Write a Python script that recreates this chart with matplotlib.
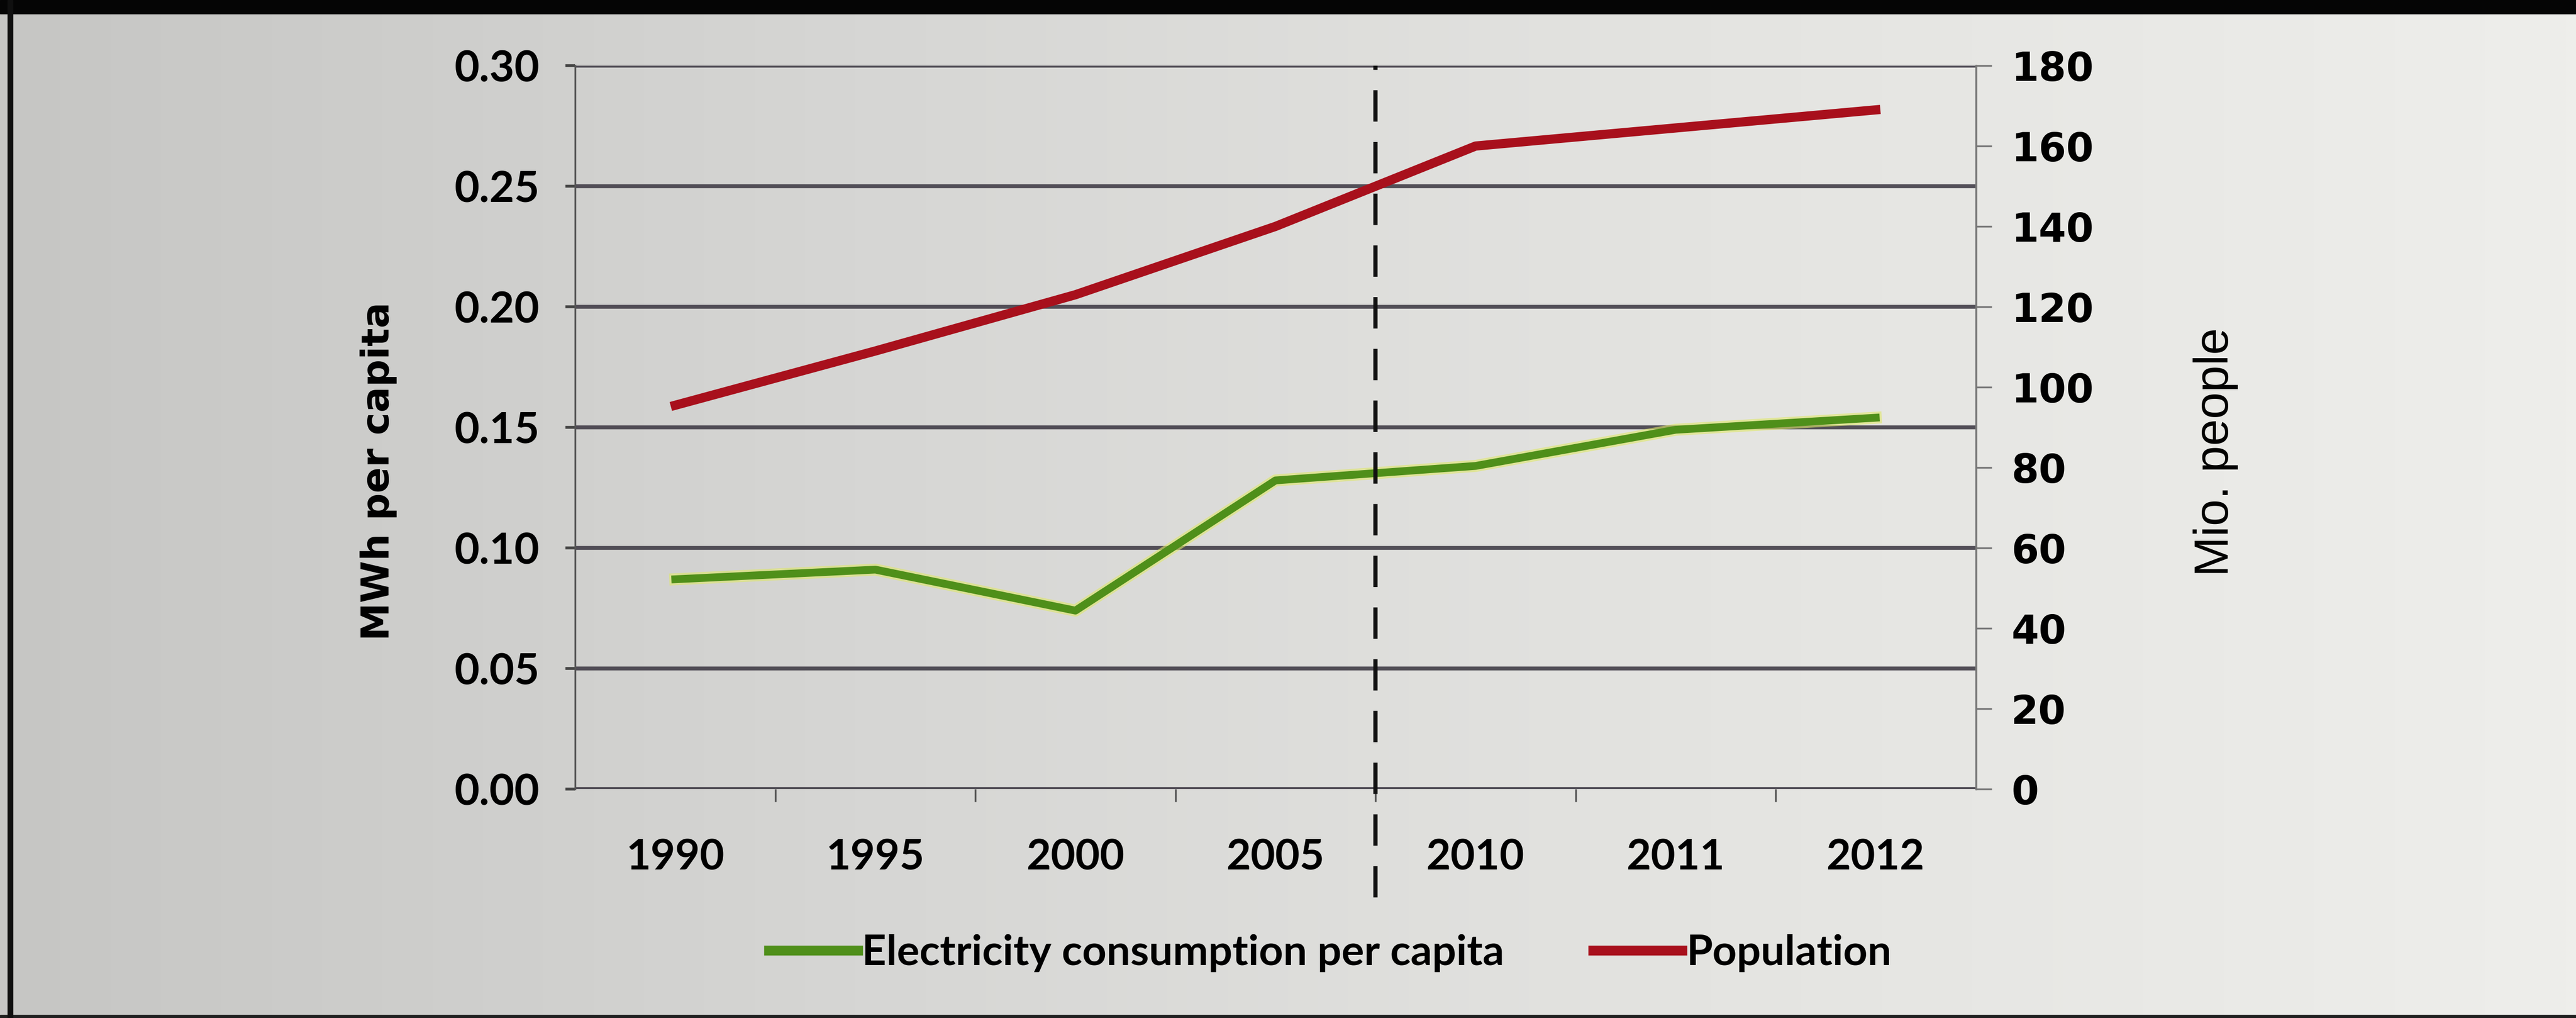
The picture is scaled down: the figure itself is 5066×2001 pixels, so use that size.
import numpy as np
import matplotlib
matplotlib.use("Agg")
import matplotlib.pyplot as plt
from matplotlib.patches import Rectangle
from matplotlib.lines import Line2D
from matplotlib.colors import LinearSegmentedColormap

years = ["1990", "1995", "2000", "2005", "2010", "2011", "2012"]
electricity = [0.087, 0.091, 0.074, 0.128, 0.134, 0.149, 0.154]
population = [95.5, 109.0, 123.0, 140.0, 160.0, 164.5, 169.0]
left_ticks = [0.00, 0.05, 0.10, 0.15, 0.20, 0.25, 0.30]
right_ticks = [0, 20, 40, 60, 80, 100, 120, 140, 160, 180]
divider_pos = 3.5

W, H, DPI = 5066, 2001, 100
fig = plt.figure(figsize=(W / DPI, H / DPI), dpi=DPI)
fig.patch.set_facecolor("#d8d8d5")

# slide background gradient (left darker -> right lighter)
grad = np.linspace(0, 1, 256)[None, :]
bg = fig.add_axes([0, 0, 1, 1], zorder=-10)
bg.imshow(grad, aspect="auto", cmap=LinearSegmentedColormap.from_list(
    "bgc", ["#c6c6c4", "#d6d6d4", "#e4e4e1", "#eeeeeb"]), extent=[0, 1, 0, 1])
bg.set_axis_off()
fig.add_artist(Rectangle((0, 1 - 27 / H), 1, 27 / H, transform=fig.transFigure,
                         color="#050505", zorder=5))
fig.add_artist(Rectangle((0, 0), 1, 6 / H, transform=fig.transFigure,
                         color="#202020", zorder=5))
fig.add_artist(Rectangle((15 / W, 0), 10 / W, 1, transform=fig.transFigure,
                         color="#101010", zorder=5))

ax = fig.add_axes([0.2233, 0.2249, 0.767 - 0.2233, 0.9355 - 0.2249])
ax.set_facecolor("none")
x = np.arange(len(years))

cond = ["Lato", "DejaVu Sans"]

ax.set_xlim(-0.5, len(years) - 0.5)
ax.set_ylim(0, 0.30)
ax.set_yticks(left_ticks)
ax.set_yticklabels([f"{v:.2f}" for v in left_ticks], family=cond,
                   fontweight="bold", fontsize=61)
ax.set_xticks(x)
ax.set_xticklabels(years, family=cond, fontweight="bold", fontsize=60)
ax.set_xticks(np.arange(0.5, len(years) - 0.5, 1), minor=True)
ax.tick_params(axis="x", which="major", length=0, pad=70)
ax.tick_params(axis="x", which="minor", length=18, width=2.5, color="#555555",
               direction="out")
ax.tick_params(axis="y", which="major", length=14, width=4, color="#444444",
               pad=36)
ax.grid(axis="y", color="#433f49", linewidth=5.5, alpha=0.9)
ax.set_axisbelow(True)
for s in ["top", "bottom"]:
    ax.spines[s].set_visible(False)
ax.spines["left"].set_color("#555555")
ax.spines["left"].set_linewidth(2.5)
ax.spines["right"].set_color("#777777")
ax.spines["right"].set_linewidth(2.5)

ax.plot(x, electricity, color="#dfe86a", linewidth=17, alpha=0.6, zorder=3)
l1, = ax.plot(x, electricity, color="#4f8f1a", linewidth=11, zorder=4,
              label="Electricity consumption per capita")
ax.set_ylabel("MWh per capita", fontsize=54, fontweight="bold")
ax.yaxis.set_label_coords(-0.127, 0.439)

ax2 = ax.twinx()
ax2.set_ylim(0, 180)
ax2.set_yticks(right_ticks)
ax2.set_yticklabels([str(v) for v in right_ticks], fontsize=56,
                    fontweight="bold", family="DejaVu Sans")
ax2.tick_params(axis="y", length=22, width=2.5, color="#777777", pad=28)
for s in ["top", "bottom", "left"]:
    ax2.spines[s].set_visible(False)
ax2.spines["right"].set_color("#777777")
ax2.spines["right"].set_linewidth(2.5)
l2, = ax2.plot(x, population, color="#a8101c", linewidth=13, zorder=4,
               label="Population")
ax2.set_ylabel("Mio. people", fontsize=68, family="Liberation Sans")
ax2.yaxis.set_label_coords(1.155, 0.466)

ax.axvline(divider_pos, ymin=-0.15, ymax=1.0, color="#111111", linewidth=6,
           linestyle=(0, (7.4, 4.8)), clip_on=False, zorder=6)

handles = [Line2D([], [], color="#4f8f1a", linewidth=14),
           Line2D([], [], color="#a8101c", linewidth=14)]
leg = ax.legend(handles, ["Electricity consumption per capita", "Population"],
                loc="center", bbox_to_anchor=(0.539, -0.227), ncol=2,
                frameon=False, handlelength=2.1, handletextpad=0.1,
                columnspacing=2.1,
                prop={"family": cond, "size": 60, "weight": "bold"})

fig.savefig("out.png", dpi=DPI)
